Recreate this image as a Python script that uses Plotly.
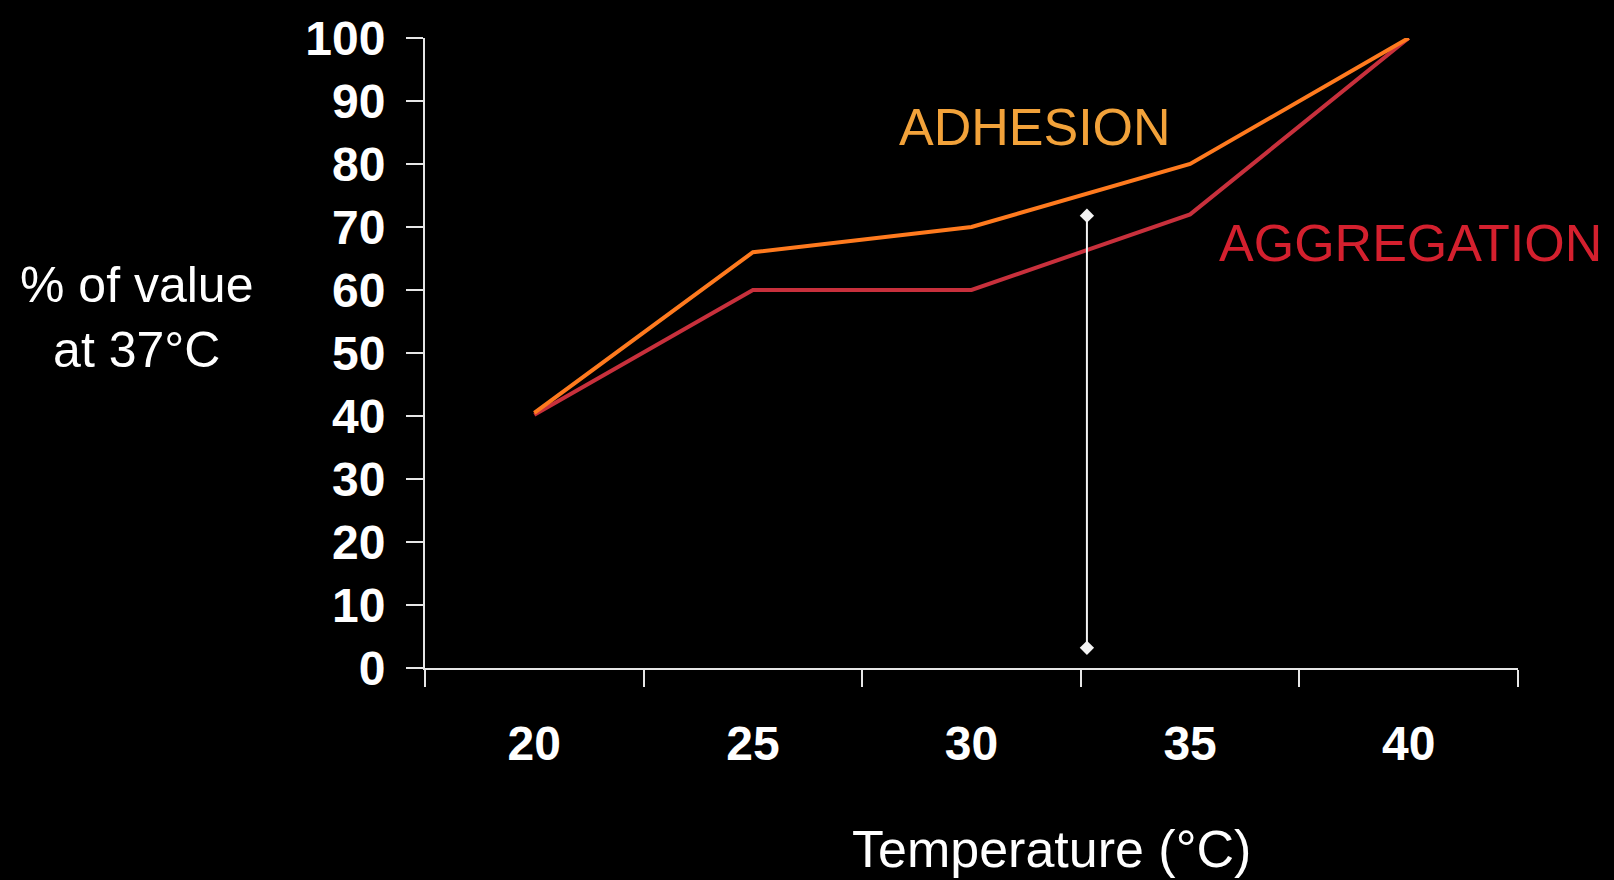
import plotly.graph_objects as go

temperature = [20, 25, 30, 35, 40]
adhesion = [40.5, 66, 70, 80, 100]
aggregation = [40.2, 60, 60, 72, 100]
tick_labels = ["20", "25", "30", "35", "40"]

# vertical range bar (error-bar style marker) between 30 and 35 degC
bar_x = [32.64, 32.64]
bar_y = [3.2, 71.8]

FONT = "Liberation Sans, Arial, sans-serif"

fig = go.Figure()
fig.add_trace(go.Scatter(x=temperature, y=aggregation, mode="lines",
                         line=dict(color="#C8303C", width=4), name="AGGREGATION",
                         showlegend=False, cliponaxis=False))
fig.add_trace(go.Scatter(x=temperature, y=adhesion, mode="lines",
                         line=dict(color="#FF7A1E", width=4), name="ADHESION",
                         showlegend=False, cliponaxis=False))
fig.add_trace(go.Scatter(x=bar_x, y=bar_y, mode="lines+markers",
                         line=dict(color="#F4F4F4", width=2),
                         marker=dict(symbol="diamond", size=11, color="#F4F4F4"),
                         showlegend=False))

fig.update_layout(
    width=1614, height=880,
    paper_bgcolor="black", plot_bgcolor="black",
    margin=dict(l=425, r=96, t=36, b=212),
    showlegend=False,
    xaxis=dict(
        range=[17.5, 42.5], tickmode="array", tickvals=temperature, ticktext=tick_labels,
        ticks="", showgrid=False, zeroline=False,
        showline=True, linecolor="#E6E6E6", linewidth=2,
        tickfont=dict(family=FONT, size=48, color="white", weight="bold"),
        ticklabelstandoff=32,
        minor=dict(tick0=17.5, dtick=5, ticks="outside", ticklen=17, tickwidth=2,
                   tickcolor="#E6E6E6", showgrid=False),
    ),
    yaxis=dict(
        range=[0, 100], tickmode="linear", tick0=0, dtick=10,
        ticks="outside", ticklen=17, tickwidth=2, tickcolor="#E6E6E6",
        showgrid=False, zeroline=False,
        showline=True, linecolor="#E6E6E6", linewidth=2,
        tickfont=dict(family=FONT, size=48, color="white", weight="bold"),
        ticklabelstandoff=11,
    ),
    annotations=[
        dict(text="Temperature (°C)", xref="paper", yref="paper", x=0.573, y=-0.288,
             xanchor="center", yanchor="middle", showarrow=False,
             font=dict(family=FONT, size=52, color="white")),
        dict(text="% of value<br>at 37°C", xref="paper", yref="paper", x=-0.264, y=0.556,
             xanchor="center", yanchor="middle", showarrow=False, align="center",
             font=dict(family=FONT, size=50, color="white")),
        dict(text="ADHESION", xref="x", yref="y", x=31.45, y=85.8,
             xanchor="center", yanchor="middle", showarrow=False,
             font=dict(family=FONT, size=52, color="#F2A23A")),
        dict(text="AGGREGATION", xref="x", yref="y", x=40.05, y=67.4,
             xanchor="center", yanchor="middle", showarrow=False,
             font=dict(family=FONT, size=52, color="#D4202E")),
    ],
)

fig.write_html("out.html")
